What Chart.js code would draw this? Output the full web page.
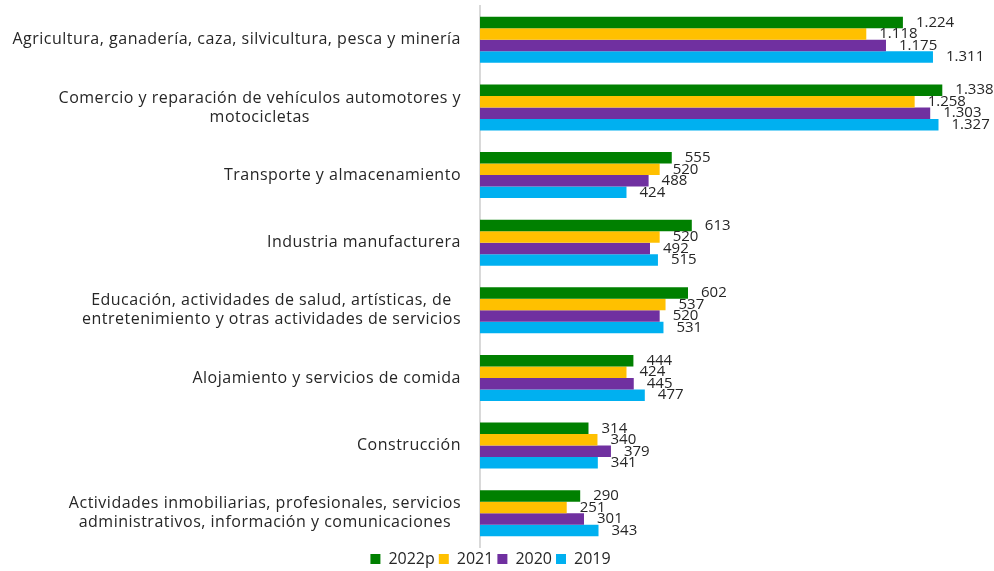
<!DOCTYPE html>
<html>
<head>
<meta charset="utf-8">
<script src="https://cdn.jsdelivr.net/npm/chart.js@4"></script>
<style>
  body { margin: 0; background: #fff; }
  #caja { width: 994px; height: 571px; }
</style>
</head>
<body>
<div id="caja"><canvas id="graficoSectores"></canvas></div>
<script>
// Sectores (de arriba a abajo), cada línea del rótulo por separado
const sectores = [
  ["Agricultura, ganadería, caza, silvicultura, pesca y minería"],
  ["Comercio y reparación de vehículos automotores y", "motocicletas"],
  ["Transporte y almacenamiento"],
  ["Industria manufacturera"],
  ["Educación, actividades de salud, artísticas, de", "entretenimiento y otras actividades de servicios"],
  ["Alojamiento y servicios de comida"],
  ["Construcción"],
  ["Actividades inmobiliarias, profesionales, servicios", "administrativos, información y comunicaciones"]
];

const valores2022p = [1224, 1338, 555, 613, 602, 444, 314, 290];
const valores2021 = [1118, 1258, 520, 520, 537, 424, 340, 251];
const valores2020 = [1175, 1303, 488, 492, 520, 445, 379, 301];
const valores2019 = [1311, 1327, 424, 515, 531, 477, 341, 343];

const FUENTE = "'Open Sans', sans-serif";

function formatoMiles(v) {
  return String(v).replace(/\B(?=(\d{3})+(?!\d))/g, ".");
}

// rótulos del eje y: bloque alineado a la derecha, líneas centradas entre sí
const rotulosEje = {
  id: "rotulosEje",
  afterDraw(chart) {
    const ctx = chart.ctx;
    const y = chart.scales.y;
    ctx.save();
    ctx.font = "16px " + FUENTE;
    ctx.letterSpacing = "0.5px";
    ctx.fillStyle = "#262626";
    ctx.textBaseline = "middle";
    ctx.textAlign = "center";
    const derecha = 461;
    const alto = 19;
    sectores.forEach((lineas, i) => {
      const cy = y.getPixelForValue(i);
      const ancho = Math.max(...lineas.map(l => ctx.measureText(l).width));
      const cx = derecha - ancho / 2;
      lineas.forEach((l, k) => {
        ctx.fillText(l, cx, cy + (k - (lineas.length - 1) / 2) * alto);
      });
    });
    ctx.restore();
  }
};

// etiquetas de valor al final de cada barra
const etiquetasValor = {
  id: "etiquetasValor",
  afterDatasetsDraw(chart) {
    const ctx = chart.ctx;
    ctx.save();
    ctx.font = "15px " + FUENTE;
    ctx.fillStyle = "#262626";
    ctx.textBaseline = "middle";
    ctx.textAlign = "left";
    chart.data.datasets.forEach((ds, d) => {
      chart.getDatasetMeta(d).data.forEach((barra, i) => {
        ctx.fillText(formatoMiles(ds.data[i]), barra.x + 13, barra.y);
      });
    });
    ctx.restore();
  }
};

new Chart(document.getElementById("graficoSectores"), {
  type: "bar",
  data: {
    labels: sectores.map(s => s.join(" ")),
    datasets: [
      { label: "2022p", data: valores2022p, backgroundColor: "#008000" },
      { label: "2021", data: valores2021, backgroundColor: "#FFC000" },
      { label: "2020", data: valores2020, backgroundColor: "#7030A0" },
      { label: "2019", data: valores2019, backgroundColor: "#00B0F0" }
    ]
  },
  options: {
    indexAxis: "y",
    responsive: true,
    maintainAspectRatio: false,
    animation: false,
    layout: { padding: { top: 6, right: 13, left: 0, bottom: -6 } },
    datasets: {
      bar: { categoryPercentage: 0.68, barPercentage: 1.0 }
    },
    plugins: {
      legend: {
        position: "bottom",
        labels: {
          boxWidth: 10,
          boxHeight: 10,
          padding: 4,
          color: "#262626",
          font: { size: 16, family: FUENTE }
        }
      },
      tooltip: { enabled: false }
    },
    scales: {
      x: {
        display: false,
        min: 0,
        max: 1450
      },
      y: {
        grid: { display: false },
        border: { display: true, color: "#d9d9d9", width: 2 },
        ticks: { display: false },
        afterFit(scale) { scale.width = 480; }
      }
    }
  },
  plugins: [rotulosEje, etiquetasValor]
});
</script>
</body>
</html>
